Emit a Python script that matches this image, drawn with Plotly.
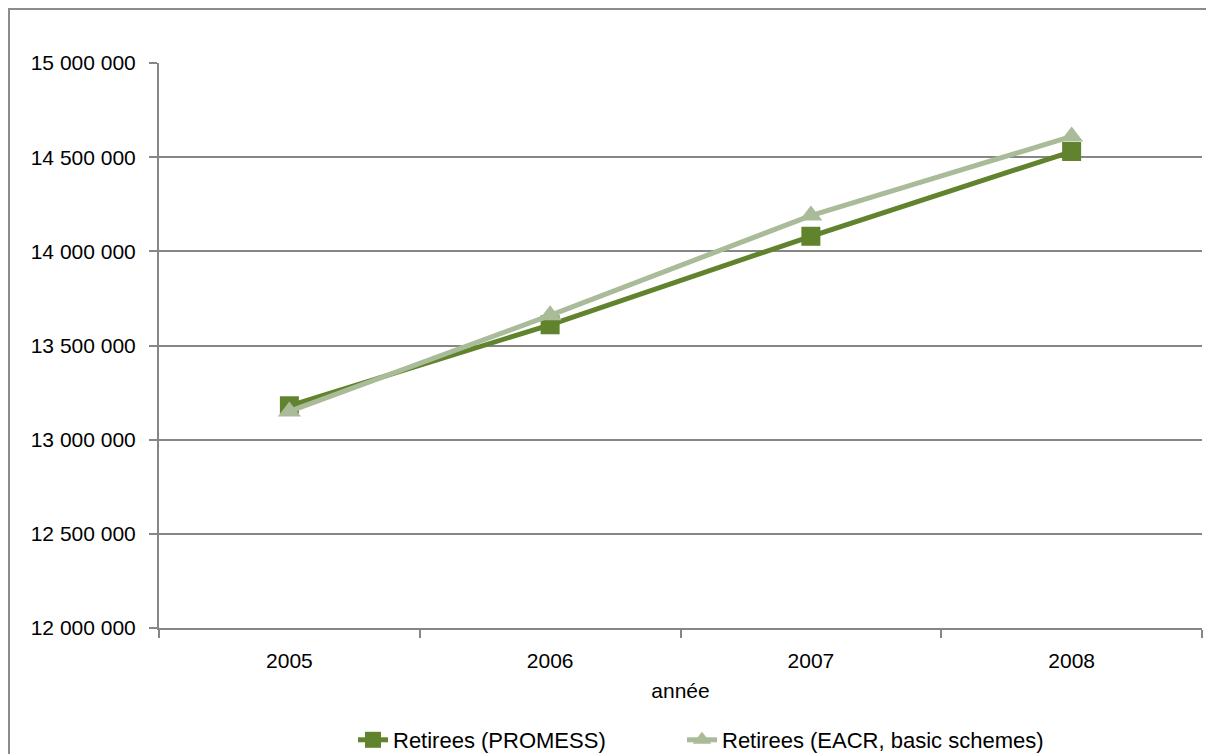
import plotly.graph_objects as go

years = ["2005", "2006", "2007", "2008"]
promess = [13180000, 13610000, 14080000, 14530000]
eacr = [13150000, 13660000, 14190000, 14610000]
y_ticks = [12000000, 12500000, 13000000, 13500000, 14000000, 14500000, 15000000]

dark = "#62832D"
light = "#A9BB98"
grid = "#868686"
font_family = "Liberation Sans, Arial, sans-serif"

fig = go.Figure()
fig.add_trace(go.Scatter(
    x=years, y=promess, name="Retirees (PROMESS)", mode="lines+markers",
    line=dict(color=dark, width=5),
    marker=dict(symbol="square", size=19, color=dark),
    legend="legend",
))
fig.add_trace(go.Scatter(
    x=years, y=eacr, name="Retirees (EACR, basic schemes)", mode="lines+markers",
    line=dict(color=light, width=5),
    marker=dict(symbol="triangle-up", size=20, color=light),
    legend="legend2",
))

# page body has an 8px offset; work in figure pixels
OFF = 8
W, H = 1214 - OFF, 754 - OFF
L, R, T, B = 159 - OFF, 1202 - OFF, 63 - OFF, 628 - OFF
pw, ph = R - L, B - T

fig.add_shape(type="rect", xref="paper", yref="paper",
              x0=(1 - L) / pw, x1=(W - 1 - L) / pw,
              y0=-(H + 40 - B) / ph, y1=1 + (T - 1) / ph,
              line=dict(color="#8C8C8C", width=2), fillcolor="rgba(0,0,0,0)", layer="below")

leg_y = -(740 - OFF - B) / ph
fig.update_layout(
    width=W, height=H,
    margin=dict(l=L, r=W - R, t=T, b=H - B, autoexpand=False),
    paper_bgcolor="white", plot_bgcolor="white",
    separators=", ",
    font=dict(family=font_family, size=21, color="#000000"),
    showlegend=True,
    legend=dict(orientation="h", x=(353 - OFF - L) / pw, xanchor="left",
                y=leg_y, yanchor="middle", font=dict(size=22)),
    legend2=dict(orientation="h", x=(682 - OFF - L) / pw, xanchor="left",
                 y=leg_y, yanchor="middle", font=dict(size=22)),
    xaxis=dict(
        type="category", tickson="boundaries", ticks="outside", ticklen=8,
        tickcolor=grid, tickwidth=1.5, showline=True, linecolor=grid, linewidth=2,
        showgrid=False, tickfont=dict(size=21), ticklabelstandoff=13,
        title=dict(text="année", font=dict(size=21), standoff=12),
        range=[-0.5, 3.5], automargin=False,
    ),
    yaxis=dict(
        range=[12000000, 15000000], tickvals=y_ticks, tickformat=",d",
        ticks="outside", ticklen=8, tickcolor=grid, tickwidth=2,
        showline=True, linecolor=grid, linewidth=2,
        showgrid=True, gridcolor=grid, gridwidth=2,
        zeroline=False, tickfont=dict(size=21), ticklabelstandoff=9,
        automargin=False,
    ),
)

fig.write_html("out.html")
